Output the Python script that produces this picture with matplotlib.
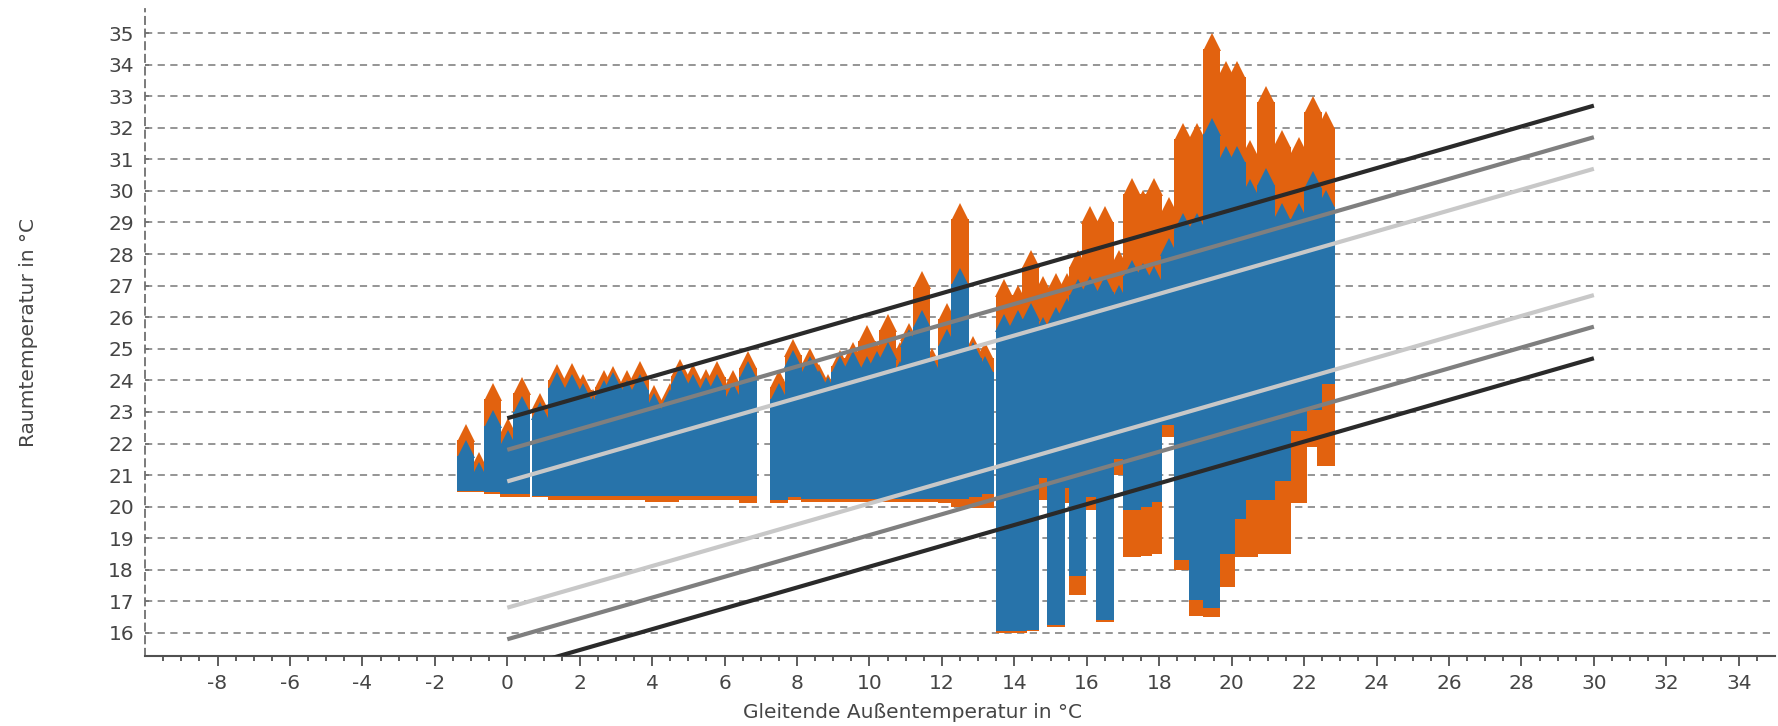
import numpy as np
import matplotlib
matplotlib.use('Agg')
import matplotlib.pyplot as plt

plt.rcParams['axes.unicode_minus'] = False

# running mean outdoor temperature (column centres) and room temperature ranges
col_x = [-1.15, -0.78, -0.40, 0.03, 0.40,
         0.91, 1.37, 1.78, 2.10, 2.38, 2.66, 2.93, 3.30, 3.67, 4.04, 4.50,
         4.77, 5.13, 5.50, 5.80, 6.24, 6.65,
         7.50, 7.90,
         8.36, 8.60, 8.86, 9.19, 9.55, 9.93, 10.20, 10.50, 10.84, 11.10,
         11.44, 11.72, 12.13, 12.50, 12.87, 13.19,
         13.72, 14.10, 14.45, 14.80, 15.15, 15.45, 15.75, 16.10, 16.50, 16.90,
         17.25, 17.55, 17.85, 18.28, 18.65, 19.05, 19.45, 19.85, 20.15, 20.50,
         20.95, 21.40, 21.85, 22.25, 22.60]

orange_lo = [20.45, 20.45, 20.4, 20.3, 20.3,
             20.3, 20.2, 20.2, 20.2, 20.2, 20.2, 20.2, 20.2, 20.2, 20.15, 20.15,
             20.2, 20.2, 20.2, 20.2, 20.2, 20.1,
             20.1, 20.2,
             20.15, 20.15, 20.15, 20.15, 20.15, 20.15, 20.15, 20.15, 20.15, 20.15,
             20.15, 20.15, 20.1, 20.0, 19.95, 19.95,
             16.0, 16.0, 16.05, 20.2, 16.2, 20.1, 17.2, 19.9, 16.35, 21.0,
             18.4, 18.45, 18.5, 22.2, 18.0, 16.55, 16.5, 17.45, 18.4, 18.4,
             18.5, 18.5, 20.1, 21.9, 21.3]

orange_hi = [22.6, 21.7, 23.9, 22.8, 24.1,
             23.6, 24.5, 24.55, 24.2, 23.7, 24.3, 24.45, 24.3, 24.6, 23.85, 23.9,
             24.65, 24.5, 24.35, 24.6, 24.3, 24.9,
             24.3, 25.3,
             25.0, 24.5, 24.2, 24.95, 25.2, 25.75, 25.2, 26.1, 25.2, 25.8,
             27.45, 25.0, 26.45, 29.6, 25.4, 25.2,
             27.2, 27.0, 28.1, 27.3, 27.4, 27.4, 28.1, 29.5, 29.5, 28.1,
             30.4, 30.0, 30.4, 29.8, 32.15, 32.15, 35.0, 34.1, 34.1, 31.6,
             33.3, 31.9, 31.7, 33.0, 32.5]

blue_lo = [20.5, 20.5, 20.45, 20.4, 20.4,
           20.35, 20.35, 20.35, 20.35, 20.35, 20.35, 20.35, 20.35, 20.35, 20.35, 20.35,
           20.35, 20.35, 20.35, 20.35, 20.35, 20.35,
           20.2, 20.3,
           20.25, 20.25, 20.25, 20.25, 20.25, 20.25, 20.25, 20.25, 20.25, 20.25,
           20.25, 20.25, 20.25, 20.25, 20.3, 20.4,
           16.05, 16.05, 16.1, 20.9, 16.25, 20.6, 17.8, 20.3, 16.4, 21.5,
           19.9, 20.0, 20.15, 22.6, 18.3, 17.05, 16.8, 18.5, 19.6, 20.2,
           20.2, 20.8, 22.4, 23.05, 23.9]

blue_hi = [22.1, 21.4, 23.05, 22.4, 23.5,
           23.3, 24.25, 24.2, 23.9, 23.5, 24.0, 24.25, 24.0, 24.2, 23.6, 23.7,
           24.4, 24.2, 24.1, 24.2, 23.9, 24.6,
           23.9, 24.95,
           24.75, 24.3, 24.1, 24.75, 24.9, 24.75, 24.9, 25.2, 24.6, 25.6,
           26.2, 24.75, 25.6, 27.55, 25.2, 24.75,
           26.1, 26.2, 26.45, 26.0, 26.3, 26.6, 27.2, 27.3, 27.3, 27.0,
           27.8, 27.7, 27.6, 28.5, 29.3, 29.3, 32.3, 31.4, 31.4, 30.35,
           30.7, 29.6, 29.6, 30.6, 30.0]

# comfort band limits (end points at 0 and 30 degC)
band_x = [0, 30]
cat3_upper = [22.8, 32.7]
cat2_upper = [21.8, 31.7]
cat1_upper = [20.8, 30.7]
cat1_lower = [16.8, 26.7]
cat2_lower = [15.8, 25.7]
cat3_lower = [14.8, 24.7]

orange = '#e2620f'
blue = '#2773aa'
w = 0.48

fig = plt.figure(figsize=(17.78, 7.26), dpi=100)
ax = fig.add_axes([0.0816, 0.0964, 0.9167, 0.8912])

x = np.array(col_x)
for lo, hi, c, z in [(orange_lo, orange_hi, orange, 2), (blue_lo, blue_hi, blue, 3)]:
    lo = np.array(lo)
    hi = np.array(hi)
    ax.bar(x, hi - 0.5 - lo, bottom=lo, width=w, color=c, linewidth=0, zorder=z)
    ax.plot(x, hi - 0.27, ls='none', marker='^', ms=12.5, color=c, mew=0, zorder=z)

for yv, c in [(cat3_upper, '#2a2a2a'), (cat2_upper, '#7f7f7f'), (cat1_upper, '#c8c8c8'),
              (cat1_lower, '#c8c8c8'), (cat2_lower, '#7f7f7f'), (cat3_lower, '#2a2a2a')]:
    ax.plot(band_x, yv, color=c, lw=3, zorder=5, solid_capstyle='butt')

ax.set_xlim(-10, 35)
ax.set_ylim(15.27, 35.76)
ax.set_xticks(np.arange(-8, 35, 2))
ax.set_xticks(np.arange(-9.5, 35, 0.5), minor=True)
ax.set_yticks(np.arange(16, 36, 1))
ax.yaxis.grid(True, color='#8c8c8c', ls=(0, (4, 3)), lw=1.3, zorder=0)
ax.set_axisbelow(True)

for s in ['top', 'right']:
    ax.spines[s].set_visible(False)
ax.spines['left'].set_linestyle((0, (4, 3)))
ax.spines['left'].set_color('#707070')
ax.spines['left'].set_linewidth(1.3)
ax.spines['bottom'].set_color('#505050')
ax.spines['bottom'].set_linewidth(1.5)

ax.tick_params(axis='x', which='major', length=7, width=1.3, color='#505050',
               labelsize=14.5, labelcolor='#454545', pad=6)
ax.tick_params(axis='x', which='minor', length=3.5, width=1.3, color='#505050')
ax.tick_params(axis='y', direction='in', length=3, width=1.2, color='#707070',
               labelsize=14.5, labelcolor='#454545', pad=8)

ax.set_xlabel('Gleitende Außentemperatur in °C', fontsize=14.5, color='#454545', labelpad=2)
ax.xaxis.set_label_coords(0.4706, -0.072)
ax.set_ylabel('Raumtemperatur in °C', fontsize=14.5, color='#454545')
ax.yaxis.set_label_coords(-0.066, 0.5)

fig.savefig('out.png', dpi=100)
